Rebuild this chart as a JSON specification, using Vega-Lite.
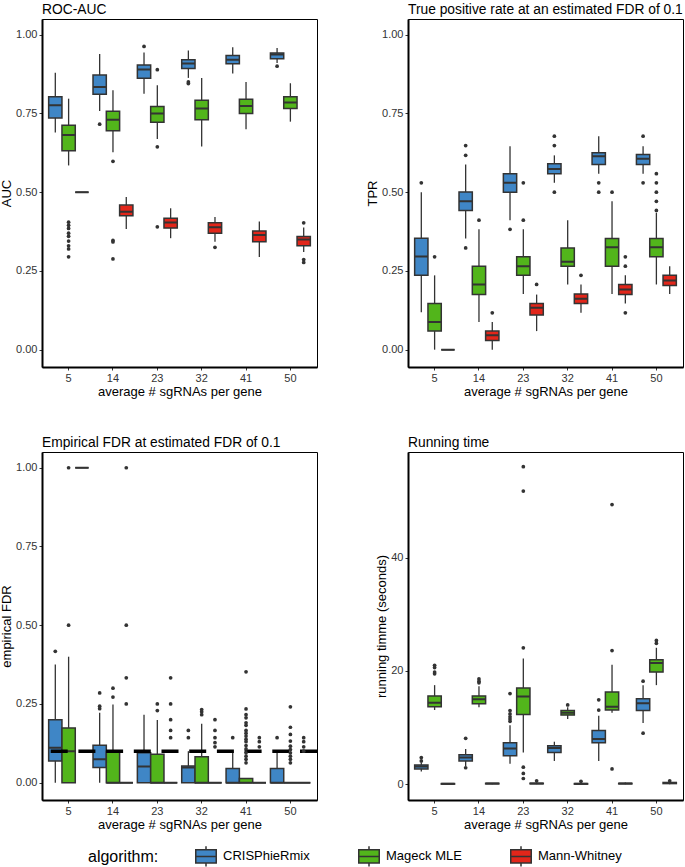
{
"$schema":"https://vega.github.io/schema/vega-lite/v6.json",
"padding":{"left":0,"top":2,"right":0,"bottom":0},
"datasets":{
"stats":[
{"p":"auc","g":"5","a":"CRISPhieRmix","lo":0.69,"q1":0.736,"m":0.776,"q3":0.803,"hi":0.879},
{"p":"auc","g":"5","a":"Mageck MLE","lo":0.585,"q1":0.632,"m":0.682,"q3":0.713,"hi":0.797},
{"p":"auc","g":"5","a":"Mann-Whitney","lo":0.5,"q1":0.5,"m":0.5,"q3":0.5,"hi":0.5},
{"p":"auc","g":"14","a":"CRISPhieRmix","lo":0.758,"q1":0.811,"m":0.834,"q3":0.872,"hi":0.939},
{"p":"auc","g":"14","a":"Mageck MLE","lo":0.627,"q1":0.695,"m":0.73,"q3":0.757,"hi":0.824},
{"p":"auc","g":"14","a":"Mann-Whitney","lo":0.383,"q1":0.425,"m":0.438,"q3":0.459,"hi":0.485},
{"p":"auc","g":"23","a":"CRISPhieRmix","lo":0.813,"q1":0.862,"m":0.89,"q3":0.904,"hi":0.944},
{"p":"auc","g":"23","a":"Mageck MLE","lo":0.669,"q1":0.722,"m":0.75,"q3":0.772,"hi":0.84},
{"p":"auc","g":"23","a":"Mann-Whitney","lo":0.354,"q1":0.386,"m":0.404,"q3":0.417,"hi":0.449},
{"p":"auc","g":"32","a":"CRISPhieRmix","lo":0.863,"q1":0.893,"m":0.909,"q3":0.921,"hi":0.95},
{"p":"auc","g":"32","a":"Mageck MLE","lo":0.645,"q1":0.73,"m":0.766,"q3":0.792,"hi":0.863},
{"p":"auc","g":"32","a":"Mann-Whitney","lo":0.343,"q1":0.37,"m":0.389,"q3":0.403,"hi":0.421},
{"p":"auc","g":"41","a":"CRISPhieRmix","lo":0.877,"q1":0.908,"m":0.921,"q3":0.934,"hi":0.96},
{"p":"auc","g":"41","a":"Mageck MLE","lo":0.7,"q1":0.75,"m":0.774,"q3":0.795,"hi":0.85},
{"p":"auc","g":"41","a":"Mann-Whitney","lo":0.294,"q1":0.343,"m":0.364,"q3":0.377,"hi":0.407},
{"p":"auc","g":"50","a":"CRISPhieRmix","lo":0.91,"q1":0.924,"m":0.937,"q3":0.942,"hi":0.958},
{"p":"auc","g":"50","a":"Mageck MLE","lo":0.724,"q1":0.766,"m":0.785,"q3":0.803,"hi":0.846},
{"p":"auc","g":"50","a":"Mann-Whitney","lo":0.31,"q1":0.33,"m":0.35,"q3":0.359,"hi":0.388},
{"p":"tpr","g":"5","a":"CRISPhieRmix","lo":0.119,"q1":0.236,"m":0.296,"q3":0.354,"hi":0.5},
{"p":"tpr","g":"5","a":"Mageck MLE","lo":0,"q1":0.059,"m":0.088,"q3":0.147,"hi":0.236},
{"p":"tpr","g":"5","a":"Mann-Whitney","lo":0,"q1":0,"m":0,"q3":0,"hi":0},
{"p":"tpr","g":"14","a":"CRISPhieRmix","lo":0.353,"q1":0.442,"m":0.471,"q3":0.501,"hi":0.588},
{"p":"tpr","g":"14","a":"Mageck MLE","lo":0.088,"q1":0.175,"m":0.207,"q3":0.265,"hi":0.382},
{"p":"tpr","g":"14","a":"Mann-Whitney","lo":0,"q1":0.029,"m":0.046,"q3":0.059,"hi":0.088},
{"p":"tpr","g":"23","a":"CRISPhieRmix","lo":0.411,"q1":0.5,"m":0.53,"q3":0.559,"hi":0.646},
{"p":"tpr","g":"23","a":"Mageck MLE","lo":0.177,"q1":0.236,"m":0.265,"q3":0.295,"hi":0.382},
{"p":"tpr","g":"23","a":"Mann-Whitney","lo":0.059,"q1":0.11,"m":0.133,"q3":0.147,"hi":0.175},
{"p":"tpr","g":"32","a":"CRISPhieRmix","lo":0.53,"q1":0.559,"m":0.574,"q3":0.59,"hi":0.617},
{"p":"tpr","g":"32","a":"Mageck MLE","lo":0.207,"q1":0.265,"m":0.279,"q3":0.323,"hi":0.411},
{"p":"tpr","g":"32","a":"Mann-Whitney","lo":0.117,"q1":0.147,"m":0.162,"q3":0.177,"hi":0.207},
{"p":"tpr","g":"41","a":"CRISPhieRmix","lo":0.559,"q1":0.588,"m":0.614,"q3":0.625,"hi":0.678},
{"p":"tpr","g":"41","a":"Mageck MLE","lo":0.177,"q1":0.265,"m":0.325,"q3":0.353,"hi":0.471},
{"p":"tpr","g":"41","a":"Mann-Whitney","lo":0.147,"q1":0.175,"m":0.191,"q3":0.207,"hi":0.236},
{"p":"tpr","g":"50","a":"CRISPhieRmix","lo":0.559,"q1":0.588,"m":0.606,"q3":0.62,"hi":0.646},
{"p":"tpr","g":"50","a":"Mageck MLE","lo":0.207,"q1":0.295,"m":0.325,"q3":0.353,"hi":0.435},
{"p":"tpr","g":"50","a":"Mann-Whitney","lo":0.177,"q1":0.204,"m":0.22,"q3":0.236,"hi":0.265},
{"p":"fdr","g":"5","a":"CRISPhieRmix","lo":0,"q1":0.069,"m":0.111,"q3":0.2,"hi":0.375},
{"p":"fdr","g":"5","a":"Mageck MLE","lo":0,"q1":0,"m":0.1,"q3":0.174,"hi":0.4},
{"p":"fdr","g":"5","a":"Mann-Whitney","lo":1,"q1":1,"m":1,"q3":1,"hi":1},
{"p":"fdr","g":"14","a":"CRISPhieRmix","lo":0,"q1":0.048,"m":0.074,"q3":0.119,"hi":0.222},
{"p":"fdr","g":"14","a":"Mageck MLE","lo":0,"q1":0,"m":0,"q3":0.1,"hi":0.248},
{"p":"fdr","g":"14","a":"Mann-Whitney","lo":0,"q1":0,"m":0,"q3":0,"hi":0},
{"p":"fdr","g":"23","a":"CRISPhieRmix","lo":0,"q1":0,"m":0.051,"q3":0.095,"hi":0.216},
{"p":"fdr","g":"23","a":"Mageck MLE","lo":0,"q1":0,"m":0,"q3":0.09,"hi":0.199},
{"p":"fdr","g":"23","a":"Mann-Whitney","lo":0,"q1":0,"m":0,"q3":0,"hi":0},
{"p":"fdr","g":"32","a":"CRISPhieRmix","lo":0,"q1":0,"m":0.048,"q3":0.053,"hi":0.1},
{"p":"fdr","g":"32","a":"Mageck MLE","lo":0,"q1":0,"m":0,"q3":0.082,"hi":0.187},
{"p":"fdr","g":"32","a":"Mann-Whitney","lo":0,"q1":0,"m":0,"q3":0,"hi":0},
{"p":"fdr","g":"41","a":"CRISPhieRmix","lo":0,"q1":0,"m":0,"q3":0.045,"hi":0.1},
{"p":"fdr","g":"41","a":"Mageck MLE","lo":0,"q1":0,"m":0,"q3":0.013,"hi":0.013},
{"p":"fdr","g":"41","a":"Mann-Whitney","lo":0,"q1":0,"m":0,"q3":0,"hi":0},
{"p":"fdr","g":"50","a":"CRISPhieRmix","lo":0,"q1":0,"m":0,"q3":0.045,"hi":0.1},
{"p":"fdr","g":"50","a":"Mageck MLE","lo":0,"q1":0,"m":0,"q3":0,"hi":0},
{"p":"fdr","g":"50","a":"Mann-Whitney","lo":0,"q1":0,"m":0,"q3":0,"hi":0},
{"p":"time","g":"5","a":"CRISPhieRmix","lo":2.25,"q1":2.7,"m":3.1,"q3":3.4,"hi":3.85},
{"p":"time","g":"5","a":"Mageck MLE","lo":13.1,"q1":13.7,"m":14.4,"q3":15.6,"hi":17.5},
{"p":"time","g":"5","a":"Mann-Whitney","lo":0,"q1":0,"m":0.05,"q3":0.1,"hi":0.2},
{"p":"time","g":"14","a":"CRISPhieRmix","lo":3.2,"q1":4.1,"m":4.7,"q3":5.2,"hi":6.2},
{"p":"time","g":"14","a":"Mageck MLE","lo":13.6,"q1":14.2,"m":15,"q3":15.6,"hi":17.3},
{"p":"time","g":"14","a":"Mann-Whitney","lo":0,"q1":0.05,"m":0.1,"q3":0.15,"hi":0.2},
{"p":"time","g":"23","a":"CRISPhieRmix","lo":3.6,"q1":5,"m":6.3,"q3":7.3,"hi":10.4},
{"p":"time","g":"23","a":"Mageck MLE","lo":5.6,"q1":12.3,"m":15.5,"q3":17,"hi":22.2},
{"p":"time","g":"23","a":"Mann-Whitney","lo":0,"q1":0.05,"m":0.1,"q3":0.15,"hi":0.3},
{"p":"time","g":"32","a":"CRISPhieRmix","lo":4.1,"q1":5.6,"m":6.4,"q3":6.8,"hi":7.5},
{"p":"time","g":"32","a":"Mageck MLE","lo":11.5,"q1":12.2,"m":12.6,"q3":13,"hi":13.6},
{"p":"time","g":"32","a":"Mann-Whitney","lo":0,"q1":0,"m":0.05,"q3":0.1,"hi":0.2},
{"p":"time","g":"41","a":"CRISPhieRmix","lo":4.1,"q1":7.3,"m":8,"q3":9.5,"hi":12.1},
{"p":"time","g":"41","a":"Mageck MLE","lo":12.6,"q1":13.1,"m":13.7,"q3":16.3,"hi":21.1},
{"p":"time","g":"41","a":"Mann-Whitney","lo":0,"q1":0.05,"m":0.1,"q3":0.15,"hi":0.3},
{"p":"time","g":"50","a":"CRISPhieRmix","lo":10.8,"q1":13,"m":14.3,"q3":15.1,"hi":17.5},
{"p":"time","g":"50","a":"Mageck MLE","lo":17.5,"q1":19.8,"m":21.4,"q3":22,"hi":24.1},
{"p":"time","g":"50","a":"Mann-Whitney","lo":0,"q1":0.1,"m":0.2,"q3":0.3,"hi":0.4}
],
"out":[
{"p":"auc","g":"5","a":"Mageck MLE","v":0.405},{"p":"auc","g":"5","a":"Mageck MLE","v":0.395},{"p":"auc","g":"5","a":"Mageck MLE","v":0.385},{"p":"auc","g":"5","a":"Mageck MLE","v":0.37},{"p":"auc","g":"5","a":"Mageck MLE","v":0.36},{"p":"auc","g":"5","a":"Mageck MLE","v":0.345},{"p":"auc","g":"5","a":"Mageck MLE","v":0.33},{"p":"auc","g":"5","a":"Mageck MLE","v":0.32},{"p":"auc","g":"5","a":"Mageck MLE","v":0.295},
{"p":"auc","g":"14","a":"CRISPhieRmix","v":0.716},{"p":"auc","g":"14","a":"Mageck MLE","v":0.598},{"p":"auc","g":"14","a":"Mageck MLE","v":0.347},{"p":"auc","g":"14","a":"Mageck MLE","v":0.342},{"p":"auc","g":"14","a":"Mageck MLE","v":0.288},
{"p":"auc","g":"23","a":"CRISPhieRmix","v":0.963},{"p":"auc","g":"23","a":"Mageck MLE","v":0.889},{"p":"auc","g":"23","a":"Mageck MLE","v":0.644},{"p":"auc","g":"23","a":"Mageck MLE","v":0.39},
{"p":"auc","g":"32","a":"CRISPhieRmix","v":0.85},{"p":"auc","g":"32","a":"CRISPhieRmix","v":0.845},{"p":"auc","g":"32","a":"Mann-Whitney","v":0.325},
{"p":"auc","g":"50","a":"CRISPhieRmix","v":0.9},{"p":"auc","g":"50","a":"Mann-Whitney","v":0.403},{"p":"auc","g":"50","a":"Mann-Whitney","v":0.286},{"p":"auc","g":"50","a":"Mann-Whitney","v":0.277},
{"p":"tpr","g":"5","a":"CRISPhieRmix","v":0.53},{"p":"tpr","g":"5","a":"Mageck MLE","v":0.295},
{"p":"tpr","g":"14","a":"CRISPhieRmix","v":0.648},{"p":"tpr","g":"14","a":"CRISPhieRmix","v":0.617},{"p":"tpr","g":"14","a":"CRISPhieRmix","v":0.323},{"p":"tpr","g":"14","a":"Mageck MLE","v":0.411},{"p":"tpr","g":"14","a":"Mann-Whitney","v":0.117},
{"p":"tpr","g":"23","a":"CRISPhieRmix","v":0.382},{"p":"tpr","g":"23","a":"Mageck MLE","v":0.53},{"p":"tpr","g":"23","a":"Mageck MLE","v":0.411},{"p":"tpr","g":"23","a":"Mann-Whitney","v":0.207},
{"p":"tpr","g":"32","a":"CRISPhieRmix","v":0.678},{"p":"tpr","g":"32","a":"CRISPhieRmix","v":0.648},{"p":"tpr","g":"32","a":"CRISPhieRmix","v":0.5},{"p":"tpr","g":"32","a":"Mann-Whitney","v":0.236},
{"p":"tpr","g":"41","a":"CRISPhieRmix","v":0.53},{"p":"tpr","g":"41","a":"CRISPhieRmix","v":0.5},{"p":"tpr","g":"41","a":"Mageck MLE","v":0.5},{"p":"tpr","g":"41","a":"Mann-Whitney","v":0.295},{"p":"tpr","g":"41","a":"Mann-Whitney","v":0.265},{"p":"tpr","g":"41","a":"Mann-Whitney","v":0.117},
{"p":"tpr","g":"50","a":"CRISPhieRmix","v":0.678},{"p":"tpr","g":"50","a":"CRISPhieRmix","v":0.53},{"p":"tpr","g":"50","a":"Mageck MLE","v":0.559},{"p":"tpr","g":"50","a":"Mageck MLE","v":0.53},{"p":"tpr","g":"50","a":"Mageck MLE","v":0.5},{"p":"tpr","g":"50","a":"Mageck MLE","v":0.471},{"p":"tpr","g":"50","a":"Mageck MLE","v":0.442},
{"p":"fdr","g":"5","a":"CRISPhieRmix","v":0.417},{"p":"fdr","g":"5","a":"Mageck MLE","v":0.5},{"p":"fdr","g":"5","a":"Mageck MLE","v":1},
{"p":"fdr","g":"14","a":"CRISPhieRmix","v":0.285},{"p":"fdr","g":"14","a":"CRISPhieRmix","v":0.243},{"p":"fdr","g":"14","a":"CRISPhieRmix","v":0.235},{"p":"fdr","g":"14","a":"Mageck MLE","v":0.3},{"p":"fdr","g":"14","a":"Mageck MLE","v":0.272},{"p":"fdr","g":"14","a":"Mann-Whitney","v":0.25},{"p":"fdr","g":"14","a":"Mann-Whitney","v":0.333},{"p":"fdr","g":"14","a":"Mann-Whitney","v":0.5},{"p":"fdr","g":"14","a":"Mann-Whitney","v":1},
{"p":"fdr","g":"23","a":"Mageck MLE","v":0.25},{"p":"fdr","g":"23","a":"Mageck MLE","v":0.229},{"p":"fdr","g":"23","a":"Mann-Whitney","v":0.333},{"p":"fdr","g":"23","a":"Mann-Whitney","v":0.25},{"p":"fdr","g":"23","a":"Mann-Whitney","v":0.2},{"p":"fdr","g":"23","a":"Mann-Whitney","v":0.166},{"p":"fdr","g":"23","a":"Mann-Whitney","v":0.143},
{"p":"fdr","g":"32","a":"CRISPhieRmix","v":0.166},{"p":"fdr","g":"32","a":"CRISPhieRmix","v":0.143},{"p":"fdr","g":"32","a":"Mageck MLE","v":0.232},{"p":"fdr","g":"32","a":"Mageck MLE","v":0.225},{"p":"fdr","g":"32","a":"Mageck MLE","v":0.216},{"p":"fdr","g":"32","a":"Mann-Whitney","v":0.2},{"p":"fdr","g":"32","a":"Mann-Whitney","v":0.166},{"p":"fdr","g":"32","a":"Mann-Whitney","v":0.143},{"p":"fdr","g":"32","a":"Mann-Whitney","v":0.127},{"p":"fdr","g":"32","a":"Mann-Whitney","v":0.114},
{"p":"fdr","g":"41","a":"CRISPhieRmix","v":0.143},{"p":"fdr","g":"41","a":"Mageck MLE","v":0.352},{"p":"fdr","g":"41","a":"Mageck MLE","v":0.234},{"p":"fdr","g":"41","a":"Mageck MLE","v":0.216},{"p":"fdr","g":"41","a":"Mageck MLE","v":0.206},{"p":"fdr","g":"41","a":"Mageck MLE","v":0.19},{"p":"fdr","g":"41","a":"Mageck MLE","v":0.182},{"p":"fdr","g":"41","a":"Mageck MLE","v":0.166},{"p":"fdr","g":"41","a":"Mageck MLE","v":0.157},{"p":"fdr","g":"41","a":"Mageck MLE","v":0.148},{"p":"fdr","g":"41","a":"Mageck MLE","v":0.138},{"p":"fdr","g":"41","a":"Mageck MLE","v":0.13},{"p":"fdr","g":"41","a":"Mageck MLE","v":0.118},{"p":"fdr","g":"41","a":"Mageck MLE","v":0.107},{"p":"fdr","g":"41","a":"Mageck MLE","v":0.095},{"p":"fdr","g":"41","a":"Mageck MLE","v":0.084},{"p":"fdr","g":"41","a":"Mageck MLE","v":0.074},{"p":"fdr","g":"41","a":"Mageck MLE","v":0.063},{"p":"fdr","g":"41","a":"Mann-Whitney","v":0.143},{"p":"fdr","g":"41","a":"Mann-Whitney","v":0.13},{"p":"fdr","g":"41","a":"Mann-Whitney","v":0.114},
{"p":"fdr","g":"50","a":"CRISPhieRmix","v":0.143},{"p":"fdr","g":"50","a":"Mageck MLE","v":0.241},{"p":"fdr","g":"50","a":"Mageck MLE","v":0.176},{"p":"fdr","g":"50","a":"Mageck MLE","v":0.153},{"p":"fdr","g":"50","a":"Mageck MLE","v":0.132},{"p":"fdr","g":"50","a":"Mageck MLE","v":0.116},{"p":"fdr","g":"50","a":"Mageck MLE","v":0.105},{"p":"fdr","g":"50","a":"Mageck MLE","v":0.095},{"p":"fdr","g":"50","a":"Mageck MLE","v":0.084},{"p":"fdr","g":"50","a":"Mageck MLE","v":0.074},{"p":"fdr","g":"50","a":"Mageck MLE","v":0.063},{"p":"fdr","g":"50","a":"Mann-Whitney","v":0.143},{"p":"fdr","g":"50","a":"Mann-Whitney","v":0.13},{"p":"fdr","g":"50","a":"Mann-Whitney","v":0.114},{"p":"fdr","g":"50","a":"Mann-Whitney","v":0.1},
{"p":"time","g":"5","a":"CRISPhieRmix","v":4.7},{"p":"time","g":"5","a":"CRISPhieRmix","v":4.1},{"p":"time","g":"5","a":"Mageck MLE","v":21},{"p":"time","g":"5","a":"Mageck MLE","v":20.6},{"p":"time","g":"5","a":"Mageck MLE","v":19.8},{"p":"time","g":"5","a":"Mageck MLE","v":19.5},
{"p":"time","g":"14","a":"CRISPhieRmix","v":8.1},{"p":"time","g":"14","a":"CRISPhieRmix","v":2.9},{"p":"time","g":"14","a":"Mageck MLE","v":18.6},{"p":"time","g":"14","a":"Mageck MLE","v":18.2},{"p":"time","g":"14","a":"Mageck MLE","v":17.9},
{"p":"time","g":"23","a":"CRISPhieRmix","v":16},{"p":"time","g":"23","a":"CRISPhieRmix","v":13},{"p":"time","g":"23","a":"CRISPhieRmix","v":12.4},{"p":"time","g":"23","a":"CRISPhieRmix","v":11.9},{"p":"time","g":"23","a":"CRISPhieRmix","v":11.5},{"p":"time","g":"23","a":"CRISPhieRmix","v":11.1},{"p":"time","g":"23","a":"Mageck MLE","v":56.1},{"p":"time","g":"23","a":"Mageck MLE","v":51.8},{"p":"time","g":"23","a":"Mageck MLE","v":24.1},{"p":"time","g":"23","a":"Mageck MLE","v":3},{"p":"time","g":"23","a":"Mageck MLE","v":1.9},{"p":"time","g":"23","a":"Mageck MLE","v":1},{"p":"time","g":"23","a":"Mann-Whitney","v":0.6},
{"p":"time","g":"32","a":"Mageck MLE","v":14},{"p":"time","g":"32","a":"Mann-Whitney","v":0.5},
{"p":"time","g":"41","a":"CRISPhieRmix","v":14.9},{"p":"time","g":"41","a":"CRISPhieRmix","v":13.1},{"p":"time","g":"41","a":"Mageck MLE","v":49.4},{"p":"time","g":"41","a":"Mageck MLE","v":23.6},{"p":"time","g":"41","a":"Mageck MLE","v":2.7},
{"p":"time","g":"50","a":"CRISPhieRmix","v":18.2},{"p":"time","g":"50","a":"CRISPhieRmix","v":9},{"p":"time","g":"50","a":"Mageck MLE","v":25.4},{"p":"time","g":"50","a":"Mageck MLE","v":24.9},{"p":"time","g":"50","a":"Mann-Whitney","v":0.6}
]
},
"columns":2,
"bounds":"flush",
"spacing":{"row":85,"column":91},
"concat":[
{"width":275,"height":348,"title":{"text":"ROC-AUC"},
 "layer":[
  {"data":{"name":"stats"},"transform":[{"filter":"datum.p=='auc'"}],"mark":{"type":"rule","color":"#333","strokeWidth":1.3},"encoding":{"x":{"field":"g","type":"ordinal","sort":["5","14","23","32","41","50"],"scale":{"paddingInner":0,"paddingOuter":0.1},"axis":{"title":"average # sgRNAs per gene","labelAngle":0}},"xOffset":{"field":"a","type":"nominal","sort":["CRISPhieRmix","Mageck MLE","Mann-Whitney"],"scale":{"paddingInner":0,"paddingOuter":0.1667}},"y":{"field":"lo","type":"quantitative","scale":{"domain":[-0.055,1.05],"nice":false,"zero":false},"axis":{"title":"AUC","values":[0,0.25,0.5,0.75,1],"format":".2f"}},"y2":{"field":"hi"}}},
  {"data":{"name":"stats"},"transform":[{"filter":"datum.p=='auc'"}],"mark":{"type":"bar","stroke":"#333","strokeWidth":1.5,"opacity":1},"encoding":{"x":{"field":"g","type":"ordinal","sort":["5","14","23","32","41","50"]},"xOffset":{"field":"a","type":"nominal","sort":["CRISPhieRmix","Mageck MLE","Mann-Whitney"]},"y":{"field":"q1","type":"quantitative","title":"AUC"},"y2":{"field":"q3"},"color":{"field":"a","type":"nominal","scale":{"domain":["CRISPhieRmix","Mageck MLE","Mann-Whitney"],"range":["#3F86C6","#52B51B","#E2261A"]},"legend":{"title":"algorithm:"}}}},
  {"data":{"name":"stats"},"transform":[{"filter":"datum.p=='auc'"}],"mark":{"type":"bar","fillOpacity":0,"stroke":"#333","strokeWidth":2},"encoding":{"x":{"field":"g","type":"ordinal","sort":["5","14","23","32","41","50"]},"xOffset":{"field":"a","type":"nominal","sort":["CRISPhieRmix","Mageck MLE","Mann-Whitney"]},"y":{"field":"m","type":"quantitative","title":"AUC"},"y2":{"field":"m"}}},
  {"data":{"name":"out"},"transform":[{"filter":"datum.p=='auc'"}],"mark":{"type":"point","filled":true,"color":"#333","size":14,"opacity":1},"encoding":{"x":{"field":"g","type":"ordinal","sort":["5","14","23","32","41","50"]},"xOffset":{"field":"a","type":"nominal","sort":["CRISPhieRmix","Mageck MLE","Mann-Whitney"]},"y":{"field":"v","type":"quantitative","title":"AUC"}}}
 ]},
{"width":275,"height":348,"title":{"text":"True positive rate at an estimated FDR of 0.1"},
 "layer":[
  {"data":{"name":"stats"},"transform":[{"filter":"datum.p=='tpr'"}],"mark":{"type":"rule","color":"#333","strokeWidth":1.3},"encoding":{"x":{"field":"g","type":"ordinal","sort":["5","14","23","32","41","50"],"scale":{"paddingInner":0,"paddingOuter":0.1},"axis":{"title":"average # sgRNAs per gene","labelAngle":0}},"xOffset":{"field":"a","type":"nominal","sort":["CRISPhieRmix","Mageck MLE","Mann-Whitney"],"scale":{"paddingInner":0,"paddingOuter":0.1667}},"y":{"field":"lo","type":"quantitative","scale":{"domain":[-0.055,1.05],"nice":false,"zero":false},"axis":{"title":"TPR","values":[0,0.25,0.5,0.75,1],"format":".2f"}},"y2":{"field":"hi"}}},
  {"data":{"name":"stats"},"transform":[{"filter":"datum.p=='tpr'"}],"mark":{"type":"bar","stroke":"#333","strokeWidth":1.5,"opacity":1},"encoding":{"x":{"field":"g","type":"ordinal","sort":["5","14","23","32","41","50"]},"xOffset":{"field":"a","type":"nominal","sort":["CRISPhieRmix","Mageck MLE","Mann-Whitney"]},"y":{"field":"q1","type":"quantitative","title":"TPR"},"y2":{"field":"q3"},"color":{"field":"a","type":"nominal"}}},
  {"data":{"name":"stats"},"transform":[{"filter":"datum.p=='tpr'"}],"mark":{"type":"bar","fillOpacity":0,"stroke":"#333","strokeWidth":2},"encoding":{"x":{"field":"g","type":"ordinal","sort":["5","14","23","32","41","50"]},"xOffset":{"field":"a","type":"nominal","sort":["CRISPhieRmix","Mageck MLE","Mann-Whitney"]},"y":{"field":"m","type":"quantitative","title":"TPR"},"y2":{"field":"m"}}},
  {"data":{"name":"out"},"transform":[{"filter":"datum.p=='tpr'"}],"mark":{"type":"point","filled":true,"color":"#333","size":14,"opacity":1},"encoding":{"x":{"field":"g","type":"ordinal","sort":["5","14","23","32","41","50"]},"xOffset":{"field":"a","type":"nominal","sort":["CRISPhieRmix","Mageck MLE","Mann-Whitney"]},"y":{"field":"v","type":"quantitative","title":"TPR"}}}
 ]},
{"width":275,"height":348,"title":{"text":"Empirical FDR at estimated FDR of 0.1"},
 "layer":[
  {"data":{"name":"stats"},"transform":[{"filter":"datum.p=='fdr'"}],"mark":{"type":"rule","color":"#333","strokeWidth":1.3},"encoding":{"x":{"field":"g","type":"ordinal","sort":["5","14","23","32","41","50"],"scale":{"paddingInner":0,"paddingOuter":0.1},"axis":{"title":"average # sgRNAs per gene","labelAngle":0}},"xOffset":{"field":"a","type":"nominal","sort":["CRISPhieRmix","Mageck MLE","Mann-Whitney"],"scale":{"paddingInner":0,"paddingOuter":0.1667}},"y":{"field":"lo","type":"quantitative","scale":{"domain":[-0.055,1.05],"nice":false,"zero":false},"axis":{"title":"empirical FDR","values":[0,0.25,0.5,0.75,1],"format":".2f"}},"y2":{"field":"hi"}}},
  {"data":{"name":"stats"},"transform":[{"filter":"datum.p=='fdr'"}],"mark":{"type":"bar","stroke":"#333","strokeWidth":1.5,"opacity":1},"encoding":{"x":{"field":"g","type":"ordinal","sort":["5","14","23","32","41","50"]},"xOffset":{"field":"a","type":"nominal","sort":["CRISPhieRmix","Mageck MLE","Mann-Whitney"]},"y":{"field":"q1","type":"quantitative","title":"empirical FDR"},"y2":{"field":"q3"},"color":{"field":"a","type":"nominal"}}},
  {"data":{"name":"stats"},"transform":[{"filter":"datum.p=='fdr'"}],"mark":{"type":"bar","fillOpacity":0,"stroke":"#333","strokeWidth":2},"encoding":{"x":{"field":"g","type":"ordinal","sort":["5","14","23","32","41","50"]},"xOffset":{"field":"a","type":"nominal","sort":["CRISPhieRmix","Mageck MLE","Mann-Whitney"]},"y":{"field":"m","type":"quantitative","title":"empirical FDR"},"y2":{"field":"m"}}},
  {"data":{"values":[{"ref":0.1}]},"mark":{"type":"rule","color":"#000","strokeWidth":3.5,"strokeDash":[17,10.7]},"encoding":{"y":{"field":"ref","type":"quantitative","title":"empirical FDR"}}},
  {"data":{"name":"out"},"transform":[{"filter":"datum.p=='fdr'"}],"mark":{"type":"point","filled":true,"color":"#333","size":14,"opacity":1},"encoding":{"x":{"field":"g","type":"ordinal","sort":["5","14","23","32","41","50"]},"xOffset":{"field":"a","type":"nominal","sort":["CRISPhieRmix","Mageck MLE","Mann-Whitney"]},"y":{"field":"v","type":"quantitative","title":"empirical FDR"}}}
 ]},
{"width":275,"height":348,"title":{"text":"Running time"},
 "layer":[
  {"data":{"name":"stats"},"transform":[{"filter":"datum.p=='time'"}],"mark":{"type":"rule","color":"#333","strokeWidth":1.3},"encoding":{"x":{"field":"g","type":"ordinal","sort":["5","14","23","32","41","50"],"scale":{"paddingInner":0,"paddingOuter":0.1},"axis":{"title":"average # sgRNAs per gene","labelAngle":0}},"xOffset":{"field":"a","type":"nominal","sort":["CRISPhieRmix","Mageck MLE","Mann-Whitney"],"scale":{"paddingInner":0,"paddingOuter":0.1667}},"y":{"field":"lo","type":"quantitative","scale":{"domain":[-2.8,58.7],"nice":false,"zero":false},"axis":{"title":"running timme (seconds)","values":[0,20,40]}},"y2":{"field":"hi"}}},
  {"data":{"name":"stats"},"transform":[{"filter":"datum.p=='time'"}],"mark":{"type":"bar","stroke":"#333","strokeWidth":1.5,"opacity":1},"encoding":{"x":{"field":"g","type":"ordinal","sort":["5","14","23","32","41","50"]},"xOffset":{"field":"a","type":"nominal","sort":["CRISPhieRmix","Mageck MLE","Mann-Whitney"]},"y":{"field":"q1","type":"quantitative","title":"running timme (seconds)"},"y2":{"field":"q3"},"color":{"field":"a","type":"nominal"}}},
  {"data":{"name":"stats"},"transform":[{"filter":"datum.p=='time'"}],"mark":{"type":"bar","fillOpacity":0,"stroke":"#333","strokeWidth":2},"encoding":{"x":{"field":"g","type":"ordinal","sort":["5","14","23","32","41","50"]},"xOffset":{"field":"a","type":"nominal","sort":["CRISPhieRmix","Mageck MLE","Mann-Whitney"]},"y":{"field":"m","type":"quantitative","title":"running timme (seconds)"},"y2":{"field":"m"}}},
  {"data":{"name":"out"},"transform":[{"filter":"datum.p=='time'"}],"mark":{"type":"point","filled":true,"color":"#333","size":14,"opacity":1},"encoding":{"x":{"field":"g","type":"ordinal","sort":["5","14","23","32","41","50"]},"xOffset":{"field":"a","type":"nominal","sort":["CRISPhieRmix","Mageck MLE","Mann-Whitney"]},"y":{"field":"v","type":"quantitative","title":"running timme (seconds)"}}}
 ]}
],
"config":{
 "font":"Liberation Sans",
 "view":{"stroke":"#000","strokeWidth":1},
 "title":{"anchor":"start","frame":"group","fontSize":13.8,"fontWeight":"normal","color":"#000","offset":2},
 "axis":{"grid":false,"labelFontSize":11,"labelColor":"#333","titleFontSize":13,"titleFontWeight":"normal","titleColor":"#000","tickColor":"#333","tickSize":3,"domainColor":"#000","domainWidth":2,"labelPadding":2,"titlePadding":2},
 "legend":{"orient":"none","legendX":46,"legendY":826,"direction":"horizontal","titleOrient":"left","titleAnchor":"middle","titleFontSize":16,"titleFontWeight":"normal","titleColor":"#000","titlePadding":36,"labelFontSize":13,"labelColor":"#000","symbolType":"M -1 -0.65 H 1 V 0.65 H -1 Z M -1 0 H 1 M 0 -0.65 V -1 M 0 0.65 V 1","symbolSize":420,"symbolStrokeColor":"#333","symbolStrokeWidth":1.5,"symbolOpacity":1,"columnPadding":45,"labelOffset":6}
}
}
